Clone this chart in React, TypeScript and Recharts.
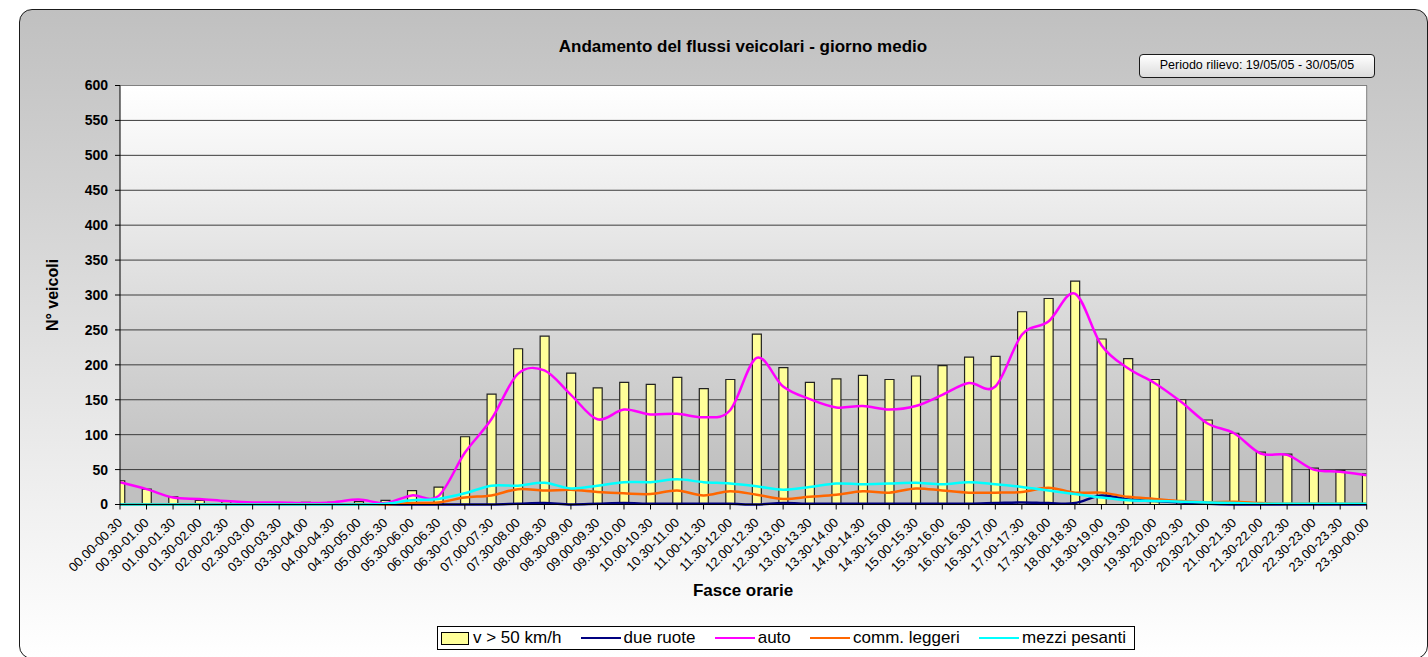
import React from "react";
import {
  Bar,
  CartesianGrid,
  ComposedChart,
  Line,
  ReferenceLine,
  XAxis,
  YAxis,
} from "recharts";

// fasce orarie (categorie asse X)
const fasce = [
  "00.00-00.30", "00.30-01.00", "01.00-01.30", "01.30-02.00", "02.00-02.30", "02.30-03.00",
  "03.00-03.30", "03.30-04.00", "04.00-04.30", "04.30-05.00", "05.00-05.30", "05.30-06.00",
  "06.00-06.30", "06.30-07.00", "07.00-07.30", "07.30-08.00", "08.00-08.30", "08.30-09.00",
  "09.00-09.30", "09.30-10.00", "10.00-10.30", "10.30-11.00", "11.00-11.30", "11.30-12.00",
  "12.00-12.30", "12.30-13.00", "13.00-13.30", "13.30-14.00", "14.00-14.30", "14.30-15.00",
  "15.00-15.30", "15.30-16.00", "16.00-16.30", "16.30-17.00", "17.00-17.30", "17.30-18.00",
  "18.00-18.30", "18.30-19.00", "19.00-19.30", "19.30-20.00", "20.00-20.30", "20.30-21.00",
  "21.00-21.30", "21.30-22.00", "22.00-22.30", "22.30-23.00", "23.00-23.30", "23.30-00.00",
];

// v > 50 km/h (barre)
const veloci = [
  34, 22, 11, 6, 4, 2, 2, 3, 3, 4, 6, 20,
  25, 97, 158, 223, 241, 188, 167, 175, 172, 182, 166, 179,
  244, 196, 175, 180, 185, 179, 184, 199, 211, 212, 276, 295,
  320, 237, 209, 179, 150, 121, 102, 75, 72, 52, 49, 44,
];

const dueRuote = [
  0, 0, 0, 0, 0, 0, 0, 0, 0, 0, 0, 0,
  0, 0, 0, 1, 2, 0, 1, 2, 1, 1, 1, 1,
  0, 2, 1, 1, 1, 1, 1, 1, 1, 2, 3, 2,
  2, 13, 7, 5, 3, 1, 0, 0, 0, 0, 0, 0,
];

const auto = [
  32, 22, 10, 8, 5, 3, 3, 2, 3, 7, 2, 13,
  12, 74, 122, 187, 192, 157, 122, 136, 129, 130, 125, 135,
  210, 169, 151, 139, 141, 136, 141, 157, 174, 169, 243, 262,
  302, 228, 195, 174, 147, 116, 102, 73, 71, 50, 47, 42,
];

const commLeggeri = [
  0, 0, 0, 0, 0, 0, 0, 0, 0, 0, 0, 2,
  3, 10, 13, 22, 20, 21, 18, 16, 15, 20, 13, 19,
  14, 8, 11, 14, 19, 17, 23, 20, 17, 17, 18, 24,
  17, 17, 11, 8, 5, 3, 4, 2, 1, 1, 1, 1,
];

const mezziPesanti = [
  0, 0, 0, 0, 0, 0, 0, 0, 0, 0, 1, 6,
  8, 16, 27, 27, 31, 23, 27, 32, 32, 36, 32, 30,
  26, 21, 25, 30, 29, 30, 31, 29, 32, 29, 25, 20,
  15, 10, 6, 5, 4, 3, 2, 1, 1, 1, 1, 1,
];

const yTicks = [0, 50, 100, 150, 200, 250, 300, 350, 400, 450, 500, 550, 600];

const data = fasce.map((fascia, i) => ({
  i,
  fascia,
  veloci: veloci[i],
  dueRuote: dueRuote[i],
  auto: auto[i],
  commLeggeri: commLeggeri[i],
  mezziPesanti: mezziPesanti[i],
}));

const xTicks = data.map((d) => d.i);

const FONT = '"Liberation Sans", Arial, Helvetica, sans-serif';

// smussatura tipo Excel (bezier catmull-rom)
function excelSmooth(ctx: any) {
  let pts: number[][] = [];
  return {
    areaStart() {},
    areaEnd() {},
    lineStart() {
      pts = [];
    },
    point(x: number, y: number) {
      pts.push([+x, +y]);
    },
    lineEnd() {
      if (!pts.length) return;
      ctx.moveTo(pts[0][0], pts[0][1]);
      for (let k = 0; k < pts.length - 1; k++) {
        const p0 = pts[k - 1] || pts[k];
        const p1 = pts[k];
        const p2 = pts[k + 1];
        const p3 = pts[k + 2] || p2;
        const t = 1 / 6;
        ctx.bezierCurveTo(
          p1[0] + (p2[0] - p0[0]) * t,
          p1[1] + (p2[1] - p0[1]) * t,
          p2[0] - (p3[0] - p1[0]) * t,
          p2[1] - (p3[1] - p1[1]) * t,
          p2[0],
          p2[1]
        );
      }
    },
  };
}

function renderXTick(props: any) {
  const { x, y, payload } = props;
  const ax = x + 3;
  const ay = y + 12;
  return (
    <text
      x={ax}
      y={ay}
      transform={`rotate(-45 ${ax} ${ay})`}
      textAnchor="end"
      fontSize={13}
      fontFamily={FONT}
      fill="#000"
    >
      {fasce[payload.value]}
    </text>
  );
}

const legendItems = [
  { name: "due ruote", color: "#000080" },
  { name: "auto", color: "#FF00FF" },
  { name: "comm. leggeri", color: "#FF6600" },
  { name: "mezzi pesanti", color: "#00FFFF" },
];

function Legenda() {
  return (
    <div
      style={{
        position: "absolute",
        left: 437,
        top: 626,
        width: 698,
        height: 24,
        boxSizing: "border-box",
        border: "1px solid #000",
        background: "#fff",
        display: "flex",
        alignItems: "center",
        justifyContent: "space-between",
        padding: "0 8px 0 3px",
        fontSize: 17,
        fontFamily: FONT,
        color: "#000",
      }}
    >
      <div style={{ display: "flex", alignItems: "center" }}>
        <div
          style={{
            width: 28,
            height: 13,
            boxSizing: "border-box",
            background: "#FFFF99",
            border: "1px solid #000",
            marginRight: 4,
          }}
        />
        <span>v &gt; 50 km/h</span>
      </div>
      {legendItems.map((it) => (
        <div key={it.name} style={{ display: "flex", alignItems: "center" }}>
          <div style={{ width: 40, height: 2.5, background: it.color, marginRight: 3 }} />
          <span>{it.name}</span>
        </div>
      ))}
    </div>
  );
}

export default function App() {
  return (
    <div style={{ position: "relative", width: 1428, height: 657, overflow: "hidden", fontFamily: FONT }}>
      <style>{"body{margin:0;overflow:hidden}"}</style>

      {/* cornice grafico */}
      <div
        style={{
          position: "absolute",
          left: 19,
          top: 9,
          width: 1409,
          height: 650,
          boxSizing: "border-box",
          border: "1.5px solid #1a1a1a",
          borderRadius: 13,
          background: "linear-gradient(180deg, #c0c0c0 0%, #ffffff 100%)",
        }}
      />

      <div
        style={{
          position: "absolute",
          left: 443,
          top: 37,
          width: 600,
          textAlign: "center",
          fontSize: 17,
          lineHeight: "20px",
          fontWeight: "bold",
        }}
      >
        Andamento del flussi veicolari - giorno medio
      </div>

      <div
        style={{
          position: "absolute",
          left: 1139,
          top: 54,
          width: 236,
          height: 24,
          boxSizing: "border-box",
          border: "1.5px solid #1a1a1a",
          borderRadius: 4,
          background: "linear-gradient(180deg, #ffffff 0%, #dcdcdc 100%)",
          fontSize: 12.5,
          lineHeight: "21px",
          textAlign: "center",
        }}
      >
        Periodo rilievo: 19/05/05 - 30/05/05
      </div>

      <div style={{ position: "absolute", left: 0, top: 0 }}>
        <ComposedChart
          width={1428}
          height={657}
          data={data}
          margin={{ top: 85.5, right: 61.3, bottom: 52.5, left: 0 }}
        >
          <defs>
            <linearGradient id="plotBg" x1="0" y1="0" x2="0" y2="1">
              <stop offset="0%" stopColor="#ffffff" />
              <stop offset="92%" stopColor="#c0c0c0" />
              <stop offset="100%" stopColor="#c0c0c0" />
            </linearGradient>
          </defs>
          <CartesianGrid
            vertical={false}
            stroke="#3c3c3c"
            fill="url(#plotBg)"
            fillOpacity={1}
          />
          <XAxis
            type="number"
            dataKey="i"
            domain={[0, 47]}
            ticks={xTicks}
            interval={0}
            allowDataOverflow
            height={100}
            tickSize={5}
            tickMargin={2}
            axisLine={{ stroke: "#000" }}
            tickLine={{ stroke: "#000" }}
            tick={renderXTick}
          />
          <YAxis
            type="number"
            domain={[0, 600]}
            ticks={yTicks}
            interval={0}
            width={120}
            tickSize={5}
            tickMargin={7}
            axisLine={{ stroke: "#000" }}
            tickLine={{ stroke: "#000" }}
            tick={{ fill: "#000", fontSize: 14, fontWeight: "bold", fontFamily: FONT }}
          />
          <ReferenceLine y={600} stroke="#808080" />
          <ReferenceLine x={47} stroke="#808080" />
          <Bar
            dataKey="veloci"
            name="v > 50 km/h"
            barSize={9}
            fill="#FFFF99"
            stroke="#222"
            strokeWidth={1.2}
            isAnimationActive={false}
          />
          <Line dataKey="dueRuote" name="due ruote" type={excelSmooth as any} stroke="#000080" strokeWidth={2.5} dot={false} isAnimationActive={false} />
          <Line dataKey="auto" name="auto" type={excelSmooth as any} stroke="#FF00FF" strokeWidth={2.5} dot={false} isAnimationActive={false} />
          <Line dataKey="commLeggeri" name="comm. leggeri" type={excelSmooth as any} stroke="#FF6600" strokeWidth={2.5} dot={false} isAnimationActive={false} />
          <Line dataKey="mezziPesanti" name="mezzi pesanti" type={excelSmooth as any} stroke="#00FFFF" strokeWidth={2.5} dot={false} isAnimationActive={false} />
        </ComposedChart>
      </div>

      <div
        style={{
          position: "absolute",
          left: 37,
          top: 285,
          width: 32,
          height: 20,
          display: "flex",
          alignItems: "center",
          justifyContent: "center",
        }}
      >
        <div
          style={{
            transform: "rotate(-90deg)",
            whiteSpace: "nowrap",
            fontSize: 16,
            fontWeight: "bold",
          }}
        >
          N° veicoli
        </div>
      </div>

      <div
        style={{
          position: "absolute",
          left: 443,
          top: 581,
          width: 600,
          textAlign: "center",
          fontSize: 17,
          lineHeight: "20px",
          fontWeight: "bold",
        }}
      >
        Fasce orarie
      </div>

      <Legenda />
    </div>
  );
}
